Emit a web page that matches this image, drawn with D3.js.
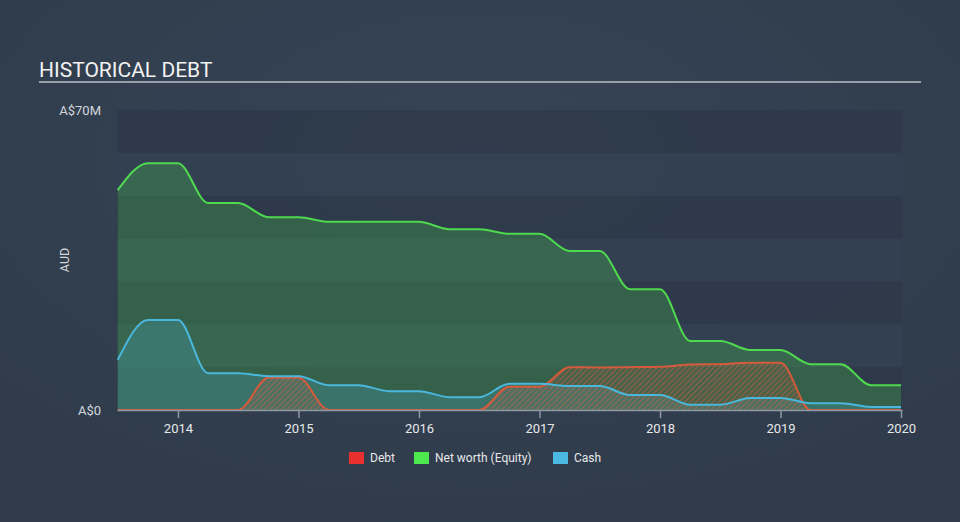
<!DOCTYPE html>
<html><head><meta charset="utf-8">
<script src="https://cdn.jsdelivr.net/npm/d3@7/dist/d3.min.js"></script>
<style>
html,body{margin:0;padding:0;background:#333f50;}
svg{display:block;font-family:Roboto,"Open Sans",sans-serif;}
</style></head>
<body>
<svg id="c" width="960" height="522"></svg>
<script>
// Quarterly sample dates (decimal years)
const dates = [2013.5,2013.75,2014.0,2014.25,2014.5,2014.75,2015.0,2015.25,2015.5,2015.75,2016.0,2016.25,2016.5,2016.75,2017.0,2017.25,2017.5,2017.75,2018.0,2018.25,2018.5,2018.75,2019.0,2019.25,2019.5,2019.75,2020.0];
// Values in A$ millions
const equity = [51.3,57.6,57.6,48.3,48.3,45.0,45.0,43.9,43.9,43.9,43.9,42.2,42.2,41.1,41.1,37.1,37.1,28.2,28.2,16.1,16.1,14.0,14.0,10.7,10.7,5.8,5.8];
const cash   = [11.7,21.0,21.0,8.6,8.6,7.9,7.9,5.8,5.8,4.4,4.4,3.0,3.0,6.1,6.1,5.6,5.6,3.5,3.5,1.2,1.2,2.8,2.8,1.6,1.6,0.7,0.7];
const debt   = [0,0,0,0,0,7.5,7.5,0,0,0,0,0,0,5.4,5.4,10.0,9.9,10.0,10.1,10.6,10.7,11.0,11.0,0,0,0,0];
const xTicks = [2014,2015,2016,2017,2018,2019,2020];
const yTicks = [0,70];
const yTickLabels = ["A$0","A$70M"];
const legendItems = [{name:"Debt",color:"#e8312f"},{name:"Net worth (Equity)",color:"#4de84d"},{name:"Cash",color:"#4ab8e0"}];

const svg = d3.select("#c");
const W=960,H=522;
const m={l:117,r:58,t:110,b:112};
const x = d3.scaleLinear().domain([2013.494,2020.008]).range([m.l,W-m.r]);
const y = d3.scaleLinear().domain([0,70]).range([H-m.b,m.t]);

// background gradient
const defs = svg.append("defs");
const rg = defs.append("radialGradient").attr("id","bg").attr("cx","50%").attr("cy","30%").attr("r","75%");
rg.append("stop").attr("offset","0%").attr("stop-color","#364456");
rg.append("stop").attr("offset","100%").attr("stop-color","#2f3b4a");
svg.append("rect").attr("width",W).attr("height",H).attr("fill","url(#bg)");

// hatch pattern
const pat = defs.append("pattern").attr("id","hatch").attr("patternUnits","userSpaceOnUse")
  .attr("width",4).attr("height",4).attr("patternTransform","rotate(45)");
pat.append("rect").attr("width",4).attr("height",4).attr("fill","rgba(205,95,60,0.15)");
pat.append("line").attr("x1",0).attr("y1",0).attr("x2",0).attr("y2",4)
  .attr("stroke","#dc6240").attr("stroke-width",1.5).attr("stroke-opacity",0.65);

// bands
const bandVals = d3.range(0,70,10);
svg.append("g").selectAll("rect").data(bandVals).join("rect")
  .attr("x",x.range()[0]).attr("width",x.range()[1]-x.range()[0])
  .attr("y",d=>y(d+10)).attr("height",d=>y(d)-y(d+10))
  .attr("fill",(d,i)=> (i%2===0) ? "#2e3a4a" : "#344152")
  .attr("fill-opacity",0.85);

// title
svg.append("text").attr("x",39).attr("y",77).attr("fill","#f2f2f2")
  .attr("font-size",21).text("HISTORICAL DEBT");
svg.append("line").attr("x1",39).attr("x2",921).attr("y1",82).attr("y2",82)
  .attr("stroke","#b9bfc7").attr("stroke-width",1.5);

const curve = d3.curveMonotoneX;
const mk = vals => dates.map((d,i)=>({d,v:vals[i]}));
const area = d3.area().x(p=>x(p.d)).y0(y(0)).y1(p=>y(p.v)).curve(curve);
const line = d3.line().x(p=>x(p.d)).y(p=>y(p.v)).curve(curve);

svg.append("path").datum(mk(equity)).attr("d",area).attr("fill","rgba(76,217,76,0.25)");
svg.append("path").datum(mk(cash)).attr("d",area).attr("fill","rgba(74,184,220,0.22)");
svg.append("path").datum(mk(debt)).attr("d",area).attr("fill","url(#hatch)");

svg.append("path").datum(mk(debt)).attr("d",line).attr("fill","none").attr("stroke","#d65a3c").attr("stroke-width",2);
svg.append("path").datum(mk(cash)).attr("d",line).attr("fill","none").attr("stroke","#4ab8dc").attr("stroke-width",2);
svg.append("path").datum(mk(equity)).attr("d",line).attr("fill","none").attr("stroke","#4fd94f").attr("stroke-width",2);

// x axis
const xa = svg.append("g").attr("transform",`translate(0,${y(0)})`)
  .call(d3.axisBottom(x).tickValues(xTicks).tickFormat(d3.format("d")).tickSize(8).tickSizeOuter(0));
xa.select(".domain").attr("stroke","#8d98a5").attr("stroke-width",1.5);
xa.selectAll(".tick line").attr("stroke","#8d98a5").attr("stroke-width",1.5);
xa.selectAll(".tick text").attr("fill","#e6e8ea").attr("font-size",13).attr("dy","0.95em")
  .attr("font-family","Roboto,sans-serif");

// y labels
svg.append("g").selectAll("text").data(yTicks).join("text")
  .attr("x",101).attr("y",d=>y(d)).attr("dy","0.35em").attr("text-anchor","end")
  .attr("fill","#d3d7dc").attr("font-size",13).text((d,i)=>yTickLabels[i]);
svg.append("text").attr("transform",`translate(69,260) rotate(-90)`).attr("text-anchor","middle")
  .attr("fill","#d3d7dc").attr("font-size",12.5).text("AUD");

// legend
const lg = svg.append("g").attr("transform","translate(0,458)");
const lx = [349,414,553];
legendItems.forEach((it,i)=>{
  lg.append("rect").attr("x",lx[i]).attr("y",-6).attr("width",15).attr("height",12).attr("fill",it.color);
  lg.append("text").attr("x",lx[i]+21).attr("y",0).attr("dy","0.35em").attr("fill","#e6e8ea")
    .attr("font-size",12).text(it.name);
});
</script>
</body></html>
